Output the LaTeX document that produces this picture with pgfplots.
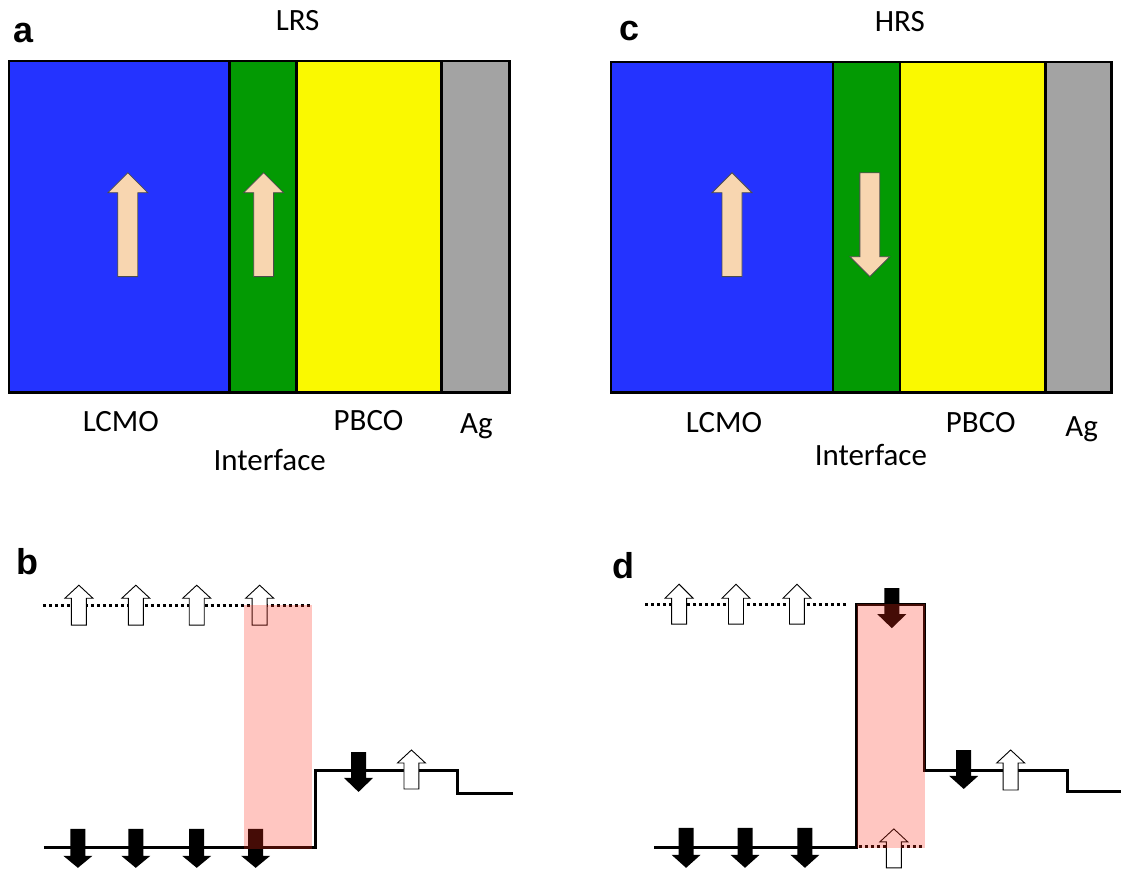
\documentclass[border=0pt]{standalone}
\usepackage{pgfplots}
\pgfplotsset{compat=1.18}
\usepackage{fontspec}
\setmainfont{Carlito}
\newfontfamily\labelfont{Liberation Sans}
\definecolor{lblue}{RGB}{36,51,255}
\definecolor{lgreen}{RGB}{3,154,3}
\definecolor{lyellow}{RGB}{250,249,0}
\definecolor{lgray}{RGB}{163,163,163}
\definecolor{peach}{RGB}{248,214,176}
\definecolor{pinkov}{rgb}{1,0.18,0.1}
\tikzset{
  txt/.style={font=\fontsize{15.5}{18}\selectfont,anchor=base},
  lab/.style={font=\fontsize{18}{20}\selectfont\labelfont\bfseries,anchor=base},
  lay/.style={draw=black,line width=1.3pt},
  big/.style={fill=peach,draw=black!70,line width=0.4pt},
  wa/.style={fill=white,draw=black,line width=0.45pt},
  ba/.style={fill=black,draw=none},
  lev/.style={black,line width=1.5pt},
  dot/.style={black,line width=1.5pt,dash pattern=on 1.5pt off 1.5pt}}
\begin{document}
\begin{tikzpicture}
\begin{axis}[x=0.5pt,y=0.5pt,y dir=reverse,xmin=0,xmax=1122,ymin=0,ymax=871,
  hide axis,scale only axis,clip=false]
\addplot[draw=none,forget plot] coordinates {(0,0) (1122,871)};
% panel a
\addplot[lay,fill=lblue] coordinates {(9,61)(230,61)(230,393)(9,393)} -- cycle;
\addplot[lay,fill=lgreen] coordinates {(230,61)(297,61)(297,393)(230,393)} -- cycle;
\addplot[lay,fill=lyellow] coordinates {(297,61)(442,61)(442,393)(297,393)} -- cycle;
\addplot[lay,fill=lgray] coordinates {(442,61)(510,61)(510,393)(442,393)} -- cycle;
\addplot[big] coordinates {(118,277)(138,277)(138,193)(148,193)(128,173)(108,193)(118,193)} -- cycle;
\addplot[big] coordinates {(254,277)(274,277)(274,193)(284,193)(264,173)(244,193)(254,193)} -- cycle;
% panel c
\addplot[lay,fill=lblue] coordinates {(612,62)(834,62)(834,393)(612,393)} -- cycle;
\addplot[lay,fill=lgreen] coordinates {(834,62)(901,62)(901,393)(834,393)} -- cycle;
\addplot[lay,fill=lyellow] coordinates {(901,62)(1047,62)(1047,393)(901,393)} -- cycle;
\addplot[lay,fill=lgray] coordinates {(1047,62)(1113,62)(1113,393)(1047,393)} -- cycle;
\addplot[big] coordinates {(723,277)(743,277)(743,193)(753,193)(733,173)(713,193)(723,193)} -- cycle;
\addplot[big] coordinates {(861,173)(881,173)(881,257)(891,257)(871,277)(851,257)(861,257)} -- cycle;
% panel b
\addplot[dot] coordinates {(43,606)(312,606)};
\addplot[lev] coordinates {(44,849)(316,849)(316,772)(458,772)(458,795)(514,795)};
\addplot[wa] coordinates {(71.5,626)(86.5,626)(86.5,599)(93,599)(79,586)(65,599)(71.5,599)} -- cycle;
\addplot[wa] coordinates {(128.5,626)(143.5,626)(143.5,599)(150,599)(136,586)(122,599)(128.5,599)} -- cycle;
\addplot[wa] coordinates {(189.5,626)(204.5,626)(204.5,599)(211,599)(197,586)(183,599)(189.5,599)} -- cycle;
\addplot[wa] coordinates {(252.5,626)(267.5,626)(267.5,599)(274,599)(260,586)(246,599)(252.5,599)} -- cycle;
\addplot[wa] coordinates {(404.5,790)(419.5,790)(419.5,764)(426,764)(412,751)(398,764)(404.5,764)} -- cycle;
\addplot[ba] coordinates {(70.5,830)(85.5,830)(85.5,857)(92.5,857)(78,869)(63.5,857)(70.5,857)} -- cycle;
\addplot[ba] coordinates {(128.5,830)(143.5,830)(143.5,857)(150.5,857)(136,869)(121.5,857)(128.5,857)} -- cycle;
\addplot[ba] coordinates {(189.5,830)(204.5,830)(204.5,857)(211.5,857)(197,869)(182.5,857)(189.5,857)} -- cycle;
\addplot[ba] coordinates {(248.5,830)(263.5,830)(263.5,857)(270.5,857)(256,869)(241.5,857)(248.5,857)} -- cycle;
\addplot[ba] coordinates {(351.5,753)(366.5,753)(366.5,779)(373.5,779)(359,793)(344.5,779)(351.5,779)} -- cycle;
\addplot[draw=none,fill=pinkov,fill opacity=0.27] coordinates {(244,606)(312,606)(312,850)(244,850)} -- cycle;
% panel d
\addplot[dot] coordinates {(646,605)(848,605)};
\addplot[dot] coordinates {(860,848)(926,848)};
\addplot[lev] coordinates {(655,849)(858,849)(858,605)(926,605)(926,772)(1069,772)(1069,793)(1122,793)};
\addplot[wa] coordinates {(672.5,625)(687.5,625)(687.5,599)(694,599)(680,585)(666,599)(672.5,599)} -- cycle;
\addplot[wa] coordinates {(729.5,625)(744.5,625)(744.5,599)(751,599)(737,585)(723,599)(729.5,599)} -- cycle;
\addplot[wa] coordinates {(790.5,625)(805.5,625)(805.5,599)(812,599)(798,585)(784,599)(790.5,599)} -- cycle;
\addplot[wa] coordinates {(887.5,869)(902.5,869)(902.5,843)(909,843)(895,830)(881,843)(887.5,843)} -- cycle;
\addplot[wa] coordinates {(1004.5,791)(1019.5,791)(1019.5,764)(1026,764)(1012,751)(998,764)(1004.5,764)} -- cycle;
\addplot[ba] coordinates {(679.5,829)(694.5,829)(694.5,856)(701.5,856)(687,869)(672.5,856)(679.5,856)} -- cycle;
\addplot[ba] coordinates {(738.5,829)(753.5,829)(753.5,856)(760.5,856)(746,869)(731.5,856)(738.5,856)} -- cycle;
\addplot[ba] coordinates {(798.5,829)(813.5,829)(813.5,856)(820.5,856)(806,869)(791.5,856)(798.5,856)} -- cycle;
\addplot[ba] coordinates {(885.5,589)(900.5,589)(900.5,615)(907.5,615)(893,629)(878.5,615)(885.5,615)} -- cycle;
\addplot[ba] coordinates {(957.5,751)(972.5,751)(972.5,777)(979.5,777)(965,790)(950.5,777)(957.5,777)} -- cycle;
\addplot[draw=none,fill=pinkov,fill opacity=0.27] coordinates {(858,605)(926,605)(926,849)(858,849)} -- cycle;
% texts
\node[lab] at (axis cs:24,43) {a};
\node[lab] at (axis cs:630,41) {c};
\node[lab] at (axis cs:28,575) {b};
\node[lab] at (axis cs:624,579) {d};
\node[txt] at (axis cs:298,31) {LRS};
\node[txt] at (axis cs:121,432) {LCMO};
\node[txt] at (axis cs:369,431) {PBCO};
\node[txt] at (axis cs:477,434) {Ag};
\node[txt] at (axis cs:270,471) {Interface};
\node[txt] at (axis cs:901,32) {HRS};
\node[txt] at (axis cs:725,433) {LCMO};
\node[txt] at (axis cs:982,433) {PBCO};
\node[txt] at (axis cs:1083,437) {Ag};
\node[txt] at (axis cs:872,466) {Interface};
\end{axis}
\end{tikzpicture}
\end{document}
